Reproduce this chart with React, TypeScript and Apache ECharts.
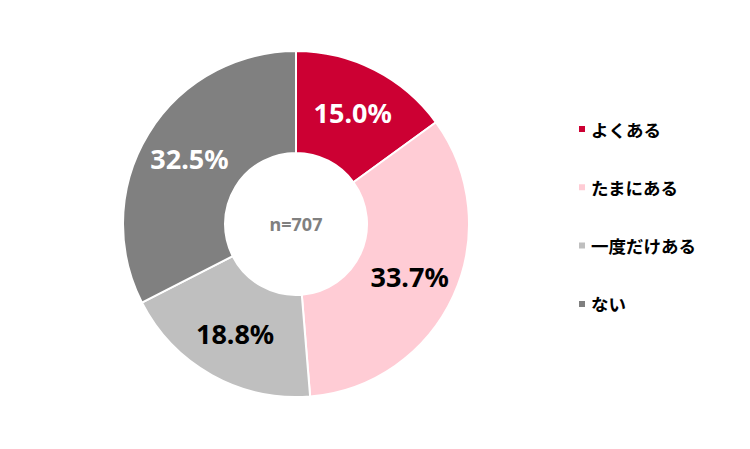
import React, { useEffect, useRef } from "react";
import * as echarts from "echarts";

const categories = ["よくある", "たまにある", "一度だけある", "ない"];
const values = [15.0, 33.7, 18.8, 32.5];
const colors = ["#CC0033", "#FFCCD5", "#BFBFBF", "#808080"];
const labelColors = ["#FFFFFF", "#000000", "#000000", "#FFFFFF"];
const centerText = "n=707";

const FONT = "'Noto Sans CJK JP', 'Noto Sans', sans-serif";
const NUM_FONT = "'Noto Sans', 'Open Sans', sans-serif";

export default function App() {
  const ref = useRef<HTMLDivElement>(null);
  useEffect(() => {
    if (!ref.current) return;
    const chart = echarts.init(ref.current, undefined, { renderer: "svg" });
    chart.setOption({
      animation: false,
      backgroundColor: "#FFFFFF",
      textStyle: { fontFamily: FONT },
      legend: {
        orient: "vertical",
        left: 577,
        top: 120,
        padding: 0,
        itemWidth: 8,
        itemHeight: 8,
        itemGap: 40.3,
        icon: "rect",
        textStyle: {
          fontSize: 17.5,
          lineHeight: 18,
          fontWeight: "bold",
          color: "#000000",
          fontFamily: FONT,
        },
        data: categories,
      },
      graphic: [
        {
          type: "text",
          x: 296,
          y: 224,
          style: {
            text: centerText,
            fill: "#808080",
            font: `bold 18px ${NUM_FONT}`,
            textAlign: "center",
            textVerticalAlign: "middle",
          },
        },
      ],
      series: [
        {
          type: "pie",
          center: [296, 224],
          radius: [71, 173],
          startAngle: 90,
          clockwise: true,
          itemStyle: { borderColor: "#FFFFFF", borderWidth: 2 },
          label: {
            show: true,
            position: "inside",
            fontSize: 27,
            fontWeight: "bold",
            fontFamily: NUM_FONT,
          },
          labelLine: { show: false },
          emphasis: { disabled: true },
          data: categories.map((c, i) => ({
            name: c,
            value: values[i],
            itemStyle: { color: colors[i] },
            label: { color: labelColors[i], formatter: values[i].toFixed(1) + "%" },
          })),
        },
      ],
    });
    return () => chart.dispose();
  }, []);
  return (
    <div
      ref={ref}
      style={{ position: "absolute", left: 0, top: 0, width: 750, height: 449 }}
    />
  );
}
